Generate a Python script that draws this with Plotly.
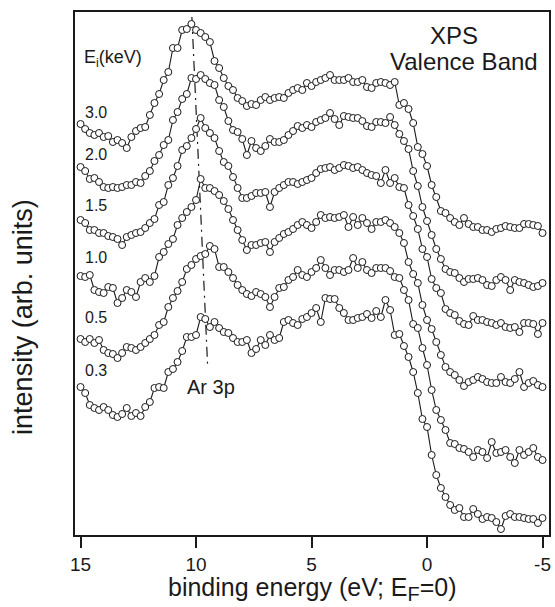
import plotly.graph_objects as go

# binding energy grid (eV), measurement step 0.2 eV
energy = [15.0, 14.8, 14.6, 14.4, 14.2, 14.0, 13.8, 13.6, 13.4, 13.2,
          13.0, 12.8, 12.6, 12.4, 12.2, 12.0, 11.8, 11.6, 11.4, 11.2,
          11.0, 10.8, 10.6, 10.4, 10.2, 10.0, 9.8, 9.6, 9.4, 9.2,
          9.0, 8.8, 8.6, 8.4, 8.2, 8.0, 7.8, 7.6, 7.4, 7.2,
          7.0, 6.8, 6.6, 6.4, 6.2, 6.0, 5.8, 5.6, 5.4, 5.2,
          5.0, 4.8, 4.6, 4.4, 4.2, 4.0, 3.8, 3.6, 3.4, 3.2,
          3.0, 2.8, 2.6, 2.4, 2.2, 2.0, 1.8, 1.6, 1.4, 1.2,
          1.0, 0.8, 0.6, 0.4, 0.2, 0.0, -0.2, -0.4, -0.6, -0.8,
          -1.0, -1.2, -1.4, -1.6, -1.8, -2.0, -2.2, -2.4, -2.6, -2.8,
          -3.0, -3.2, -3.4, -3.6, -3.8, -4.0, -4.2, -4.4, -4.6, -4.8, -5.0]

# intensities (arb. units, vertically offset spectra)
int_3_0 = [411, 406, 402, 400, 402, 398, 399, 393, 395, 392,
           387, 398, 404, 407, 408, 420, 432, 441, 455, 463,
           487, 487, 505, 506, 511, 505, 502, 498, 493, 474,
           467, 457, 449, 445, 437, 434, 429, 431, 430, 435,
           438, 435, 437, 438, 437, 442, 445, 447, 445, 452,
           449, 453, 455, 457, 460, 455, 455, 455, 457, 453,
           453, 455, 448, 447, 452, 453, 452, 450, 453, 430,
           432, 426, 412, 388, 381, 369, 350, 338, 324, 322,
           317, 313, 310, 317, 311, 308, 308, 305, 305, 303,
           306, 307, 309, 308, 307, 307, 311, 311, 310, 309, 302]

int_2_0 = [368, 364, 356, 357, 353, 348, 347, 348, 347, 348,
           350, 350, 353, 352, 359, 364, 374, 380, 390, 395,
           415, 423, 436, 441, 457, 456, 460, 456, 452, 450,
           435, 428, 414, 405, 403, 396, 380, 394, 387, 384,
           389, 396, 393, 393, 395, 400, 404, 409, 407, 410,
           408, 413, 415, 417, 422, 416, 410, 419, 418, 417,
           417, 414, 409, 408, 413, 413, 412, 418, 410, 401,
           394, 386, 364, 349, 328, 314, 300, 286, 276, 266,
           263, 262, 257, 253, 256, 256, 257, 255, 250, 249,
           255, 258, 255, 245, 255, 253, 252, 250, 248, 249, 252]

int_1_5 = [315, 312, 305, 305, 302, 302, 299, 298, 296, 290,
           298, 300, 302, 303, 307, 312, 316, 330, 333, 350,
           357, 369, 385, 389, 397, 406, 417, 407, 402, 397,
           384, 373, 369, 358, 347, 337, 337, 339, 342, 342,
           343, 328, 343, 347, 350, 353, 353, 351, 353, 355,
           357, 362, 366, 367, 368, 365, 367, 370, 369, 367,
           368, 365, 362, 360, 359, 352, 365, 352, 357, 348,
           347, 330, 319, 306, 286, 278, 256, 247, 242, 226,
           222, 220, 214, 211, 210, 219, 215, 215, 213, 212,
           210, 212, 208, 207, 208, 203, 212, 212, 211, 201, 212]

int_1_0 = [259, 258, 260, 245, 243, 242, 248, 247, 232, 237,
           245, 243, 238, 253, 257, 253, 259, 278, 283, 291,
           296, 310, 317, 323, 328, 335, 356, 347, 347, 344,
           340, 334, 326, 315, 305, 295, 285, 290, 290, 292,
           293, 283, 293, 297, 301, 303, 306, 310, 313, 310,
           307, 313, 320, 317, 318, 317, 318, 320, 308, 318,
           310, 317, 312, 306, 313, 313, 315, 312, 308, 302,
           292, 273, 261, 252, 230, 215, 206, 193, 180, 168,
           163, 160, 155, 149, 153, 155, 158, 156, 153, 152,
           152, 158, 153, 152, 156, 163, 148, 152, 154, 150, 148]

int_0_5 = [196, 193, 196, 192, 195, 185, 182, 181, 177, 182,
           188, 187, 185, 188, 192, 196, 200, 210, 213, 228,
           237, 244, 253, 266, 270, 276, 279, 281, 289, 286,
           268, 268, 263, 257, 250, 245, 241, 239, 243, 241,
           238, 228, 238, 247, 248, 255, 258, 265, 260, 258,
           263, 267, 275, 267, 260, 265, 265, 263, 265, 277,
           267, 273, 265, 262, 267, 267, 267, 264, 258, 257,
           245, 235, 211, 207, 187, 170, 145, 125, 115, 105,
           92, 91, 87, 86, 83, 78, 85, 83, 77, 93,
           82, 83, 85, 78, 72, 85, 80, 83, 87, 78, 75]

int_0_3 = [148, 142, 130, 127, 125, 128, 125, 120, 118, 121,
           127, 119, 122, 119, 128, 133, 147, 148, 147, 163,
           166, 173, 184, 198, 198, 200, 218, 216, 208, 213,
           207, 203, 202, 197, 193, 193, 195, 182, 186, 195,
           190, 200, 195, 197, 213, 215, 212, 210, 216, 218,
           222, 227, 213, 237, 236, 236, 227, 222, 215, 215,
           217, 218, 221, 217, 224, 218, 235, 225, 200, 201,
           189, 178, 163, 142, 116, 108, 80, 60, 47, 38,
           30, 25, 27, 18, 18, 26, 21, 16, 18, 17,
           13, 6, 19, 21, 18, 18, 17, 16, 16, 12, 17]

series = [int_3_0, int_2_0, int_1_5, int_1_0, int_0_5, int_0_3]
series_labels = ["3.0", "2.0", "1.5", "1.0", "0.5", "0.3"]

# Ar 3p peak guide line (energy, intensity)
ar3p_energy = [10.18, 9.5]
ar3p_level = [518, 170]

tick_values = [15, 10, 5, 0, -5]
tick_labels = ["15", "10", "5", "0", "-5"]

for s in series:
    if len(s) != len(energy):
        raise ValueError("length mismatch %d" % len(s))

INK = "#1a1a1a"
FONT = "Liberation Sans, Arial, Helvetica, sans-serif"

fig = go.Figure()

fig.add_trace(go.Scatter(
    x=ar3p_energy, y=ar3p_level, mode="lines",
    line=dict(color=INK, width=1.2, dash="10px,5px,2px,5px"),
    hoverinfo="skip", showlegend=False))

for s, lab in zip(series, series_labels):
    fig.add_trace(go.Scatter(
        x=energy, y=s, mode="lines+markers", name=lab,
        line=dict(color=INK, width=1.1),
        marker=dict(symbol="circle", size=7, color="white",
                    line=dict(color=INK, width=1)),
        showlegend=False))

annotations = []
label_gaps = [12, 13, 15, 19, 22, 17]
for s, lab, gap in zip(series, series_labels, label_gaps):
    annotations.append(dict(
        x=energy[0], y=s[0] + gap, xref="x", yref="y",
        text=lab, showarrow=False, xanchor="left", yanchor="middle",
        xshift=2, font=dict(size=16, color=INK, family=FONT)))

annotations += [
    dict(x=ar3p_energy[1], y=ar3p_level[1], xref="x", yref="y",
         text="Ar 3p", showarrow=False, xanchor="center", yanchor="top",
         xshift=3, yshift=-9, font=dict(size=20, color=INK, family=FONT)),
    dict(x=13.6, y=477, xref="x", yref="y",
         text="E<sub>i</sub>(keV)", showarrow=False, xanchor="center",
         yanchor="middle", font=dict(size=18, color=INK, family=FONT)),
    dict(x=0.8, y=0.956, xref="paper", yref="paper",
         text="XPS", showarrow=False, xanchor="center", yanchor="middle",
         font=dict(size=24, color=INK, family=FONT)),
    dict(x=0.8214, y=0.906, xref="paper", yref="paper",
         text="Valence Band", showarrow=False, xanchor="center",
         yanchor="middle", font=dict(size=24, color=INK, family=FONT)),
    dict(x=0.5, y=0, xref="paper", yref="paper",
         text="binding energy (eV; E<sub><span style='font-size:20px'>F</span></sub>=0)",
         showarrow=False,
         xanchor="center", yanchor="middle", yshift=-54,
         font=dict(size=25, color=INK, family=FONT)),
    dict(x=0, y=0.417, xref="paper", yref="paper",
         text="intensity (arb. units)", showarrow=False, textangle=-90,
         xanchor="center", yanchor="middle", xshift=-52,
         font=dict(size=27, color=INK, family=FONT)),
]

fig.update_layout(
    width=555, height=607,
    margin=dict(l=75, r=4, t=12, b=72),
    paper_bgcolor="white", plot_bgcolor="white",
    font=dict(family=FONT, color=INK),
    annotations=annotations,
    xaxis=dict(range=[15.24, -5.28], showline=True, mirror=True,
               linecolor=INK, linewidth=1.6, ticks="outside", ticklen=11,
               tickwidth=1.6, tickcolor=INK, tickvals=tick_values,
               ticktext=tick_labels, tickfont=dict(size=19, color=INK),
               showgrid=False, zeroline=False),
    yaxis=dict(range=[0, 523], showline=True, mirror=True, linecolor=INK,
               linewidth=1.6, showticklabels=False, ticks="",
               showgrid=False, zeroline=False),
)

fig.write_html("out.html")
